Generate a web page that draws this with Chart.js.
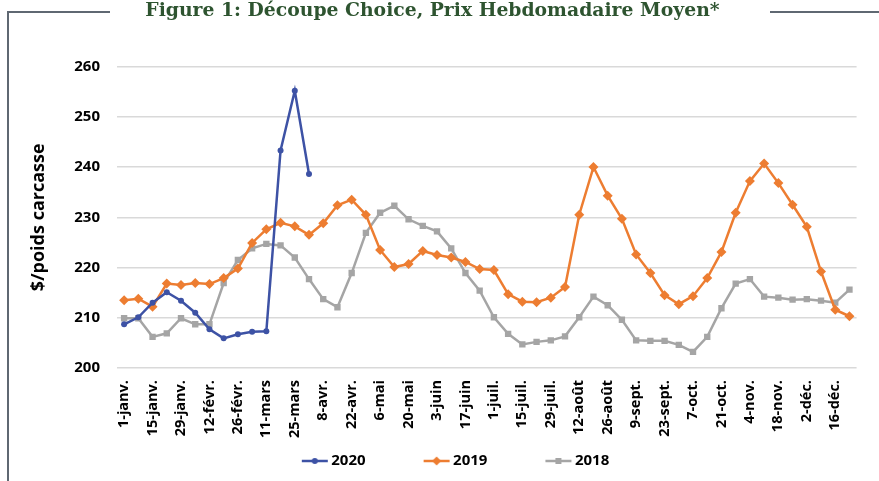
<!DOCTYPE html>
<html>
<head>
<meta charset="utf-8">
<script src="https://cdn.jsdelivr.net/npm/chart.js@4.4.1/dist/chart.umd.min.js"></script>
<style>
  body { margin: 0; background: #fff; }
  #wrap { position: relative; width: 879px; height: 481px; }
  .frame { position: absolute; background: #5f6872; }
</style>
</head>
<body>
<div id="wrap">
  <div class="frame" style="left:7px; top:11px; width:2px; height:470px;"></div>
  <div class="frame" style="left:7px; top:11px; width:103px; height:2px;"></div>
  <div class="frame" style="left:770px; top:11px; width:109px; height:2px;"></div>
  <canvas id="chart" width="879" height="481"></canvas>
</div>
<script>
// weekly categories (label shown every second week)
const weeks = ['1-janv.', '8-janv.', '15-janv.', '22-janv.', '29-janv.', '5-févr.', '12-févr.', '19-févr.',
  '26-févr.', '4-mars', '11-mars', '18-mars', '25-mars', '1-avr.', '8-avr.', '15-avr.', '22-avr.', '29-avr.',
  '6-mai', '13-mai', '20-mai', '27-mai', '3-juin', '10-juin', '17-juin', '24-juin', '1-juil.', '8-juil.',
  '15-juil.', '22-juil.', '29-juil.', '5-août', '12-août', '19-août', '26-août', '2-sept.', '9-sept.',
  '16-sept.', '23-sept.', '30-sept.', '7-oct.', '14-oct.', '21-oct.', '28-oct.', '4-nov.', '11-nov.',
  '18-nov.', '25-nov.', '2-déc.', '9-déc.', '16-déc.', '23-déc.'];

const s2020 = [208.7, 210.1, 213.0, 215.1, 213.4, 211.0, 207.7, 205.9, 206.7, 207.2, 207.3, 243.3, 255.2, 238.6];

const s2019 = [213.5, 213.8, 212.2, 216.8, 216.5, 216.9, 216.7, 217.9, 219.8, 224.9, 227.6, 228.9, 228.2,
  226.5, 228.8, 232.4, 233.5, 230.5, 223.5, 220.1, 220.7, 223.3, 222.5, 222.0, 221.1, 219.7, 219.5,
  214.7, 213.2, 213.1, 214.0, 216.1, 230.5, 240.0, 234.3, 229.7, 222.6, 218.9, 214.5, 212.7, 214.3,
  217.9, 223.1, 230.9, 237.2, 240.7, 236.8, 232.5, 228.1, 219.2, 211.6, 210.3];

const s2018 = [209.9, 209.9, 206.2, 206.9, 209.9, 208.7, 208.7, 216.9, 221.5, 223.8, 224.7, 224.4, 222.0,
  217.7, 213.7, 212.1, 218.9, 226.9, 230.9, 232.3, 229.6, 228.3, 227.2, 223.8, 218.9, 215.4, 210.1,
  206.8, 204.7, 205.2, 205.5, 206.3, 210.1, 214.2, 212.5, 209.6, 205.5, 205.4, 205.4, 204.6, 203.2,
  206.2, 211.9, 216.8, 217.7, 214.2, 214.0, 213.6, 213.7, 213.4, 213.0, 215.6];

const yTicks = [200, 210, 220, 230, 240, 250, 260];

const BLUE = '#3d52a5', ORANGE = '#ed7d31', GRAY = '#a5a5a5';
const LEG_W = 68;

// legend swatch: short line with its marker
function swatch(color, shape) {
  const c = document.createElement('canvas');
  c.width = LEG_W + 20; c.height = 14;
  const g = c.getContext('2d');
  const x0 = c.width - 32, x1 = c.width - 6, xm = (x0 + x1) / 2, ym = 7;
  g.strokeStyle = color; g.fillStyle = color; g.lineWidth = 2.5;
  g.beginPath(); g.moveTo(x0, ym); g.lineTo(x1, ym); g.stroke();
  g.beginPath();
  if (shape === 'circle') g.arc(xm, ym, 3, 0, Math.PI * 2);
  else if (shape === 'diamond') { g.moveTo(xm, ym - 4.5); g.lineTo(xm + 4.5, ym); g.lineTo(xm, ym + 4.5); g.lineTo(xm - 4.5, ym); g.closePath(); }
  else g.rect(xm - 3, ym - 3, 6, 6);
  g.fill();
  return c;
}
const swatches = [swatch(BLUE, 'circle'), swatch(ORANGE, 'diamond'), swatch(GRAY, 'square')];

Chart.defaults.font.family = "'Open Sans', sans-serif";
Chart.defaults.color = '#000';

new Chart(document.getElementById('chart'), {
  type: 'line',
  data: {
    labels: weeks,
    datasets: [
      { label: '2020', data: s2020, borderColor: BLUE, backgroundColor: BLUE, borderWidth: 2.5,
        pointStyle: 'circle', pointRadius: 3, pointBorderWidth: 0, tension: 0 },
      { label: '2019', data: s2019, borderColor: ORANGE, backgroundColor: ORANGE, borderWidth: 2.5,
        pointStyle: 'rectRot', pointRadius: 5, pointBorderWidth: 0, tension: 0 },
      { label: '2018', data: s2018, borderColor: GRAY, backgroundColor: GRAY, borderWidth: 2.5,
        pointStyle: 'rect', pointRadius: 4.5, pointBorderWidth: 0, tension: 0 }
    ]
  },
  options: {
    responsive: false,
    animation: false,
    layout: { padding: { left: 0, right: 14, top: 0, bottom: 2.5 } },
    scales: {
      x: {
        offset: true,
        grid: { display: false, drawTicks: false },
        border: { display: false },
        ticks: {
          autoSkip: false, minRotation: 90, maxRotation: 90, padding: 12,
          font: { size: 14.5, weight: 'bold' },
          callback: (v, i) => (i % 2 === 0 ? weeks[i] : '')
        },
        afterFit: (s) => { s.height = 73.5; }
      },
      y: {
        min: 200, max: 260,
        afterBuildTicks: (s) => { s.ticks = yTicks.map(v => ({ value: v })); },
        grid: { color: '#d9d9d9', lineWidth: 1.5, drawTicks: false },
        border: { display: false },
        ticks: { padding: 17, font: { size: 15, weight: 'bold' } },
        title: { display: true, text: '$/poids carcasse', padding: { top: 28, bottom: 0 },
          font: { size: 18, weight: 'bold' } },
        afterFit: (s) => { s.width = 117; }
      }
    },
    plugins: {
      title: {
        display: true,
        text: 'Figure 1: Découpe Choice, Prix Hebdomadaire Moyen*',
        color: '#2e5430',
        font: { family: "'DejaVu Serif', serif", size: 18.8, weight: 'bold' },
        padding: { top: 0, bottom: 44 }
      },
      legend: {
        position: 'bottom',
        labels: {
          usePointStyle: true, pointStyleWidth: LEG_W, padding: 12,
          font: { size: 15, weight: 'bold' },
          generateLabels: (chart) => chart.data.datasets.map((d, i) => ({
            text: d.label, pointStyle: swatches[i], datasetIndex: i,
            fillStyle: d.borderColor, strokeStyle: d.borderColor, lineWidth: 0,
            hidden: !chart.isDatasetVisible(i)
          }))
        }
      },
      tooltip: { enabled: false }
    }
  }
});
</script>
</body>
</html>
